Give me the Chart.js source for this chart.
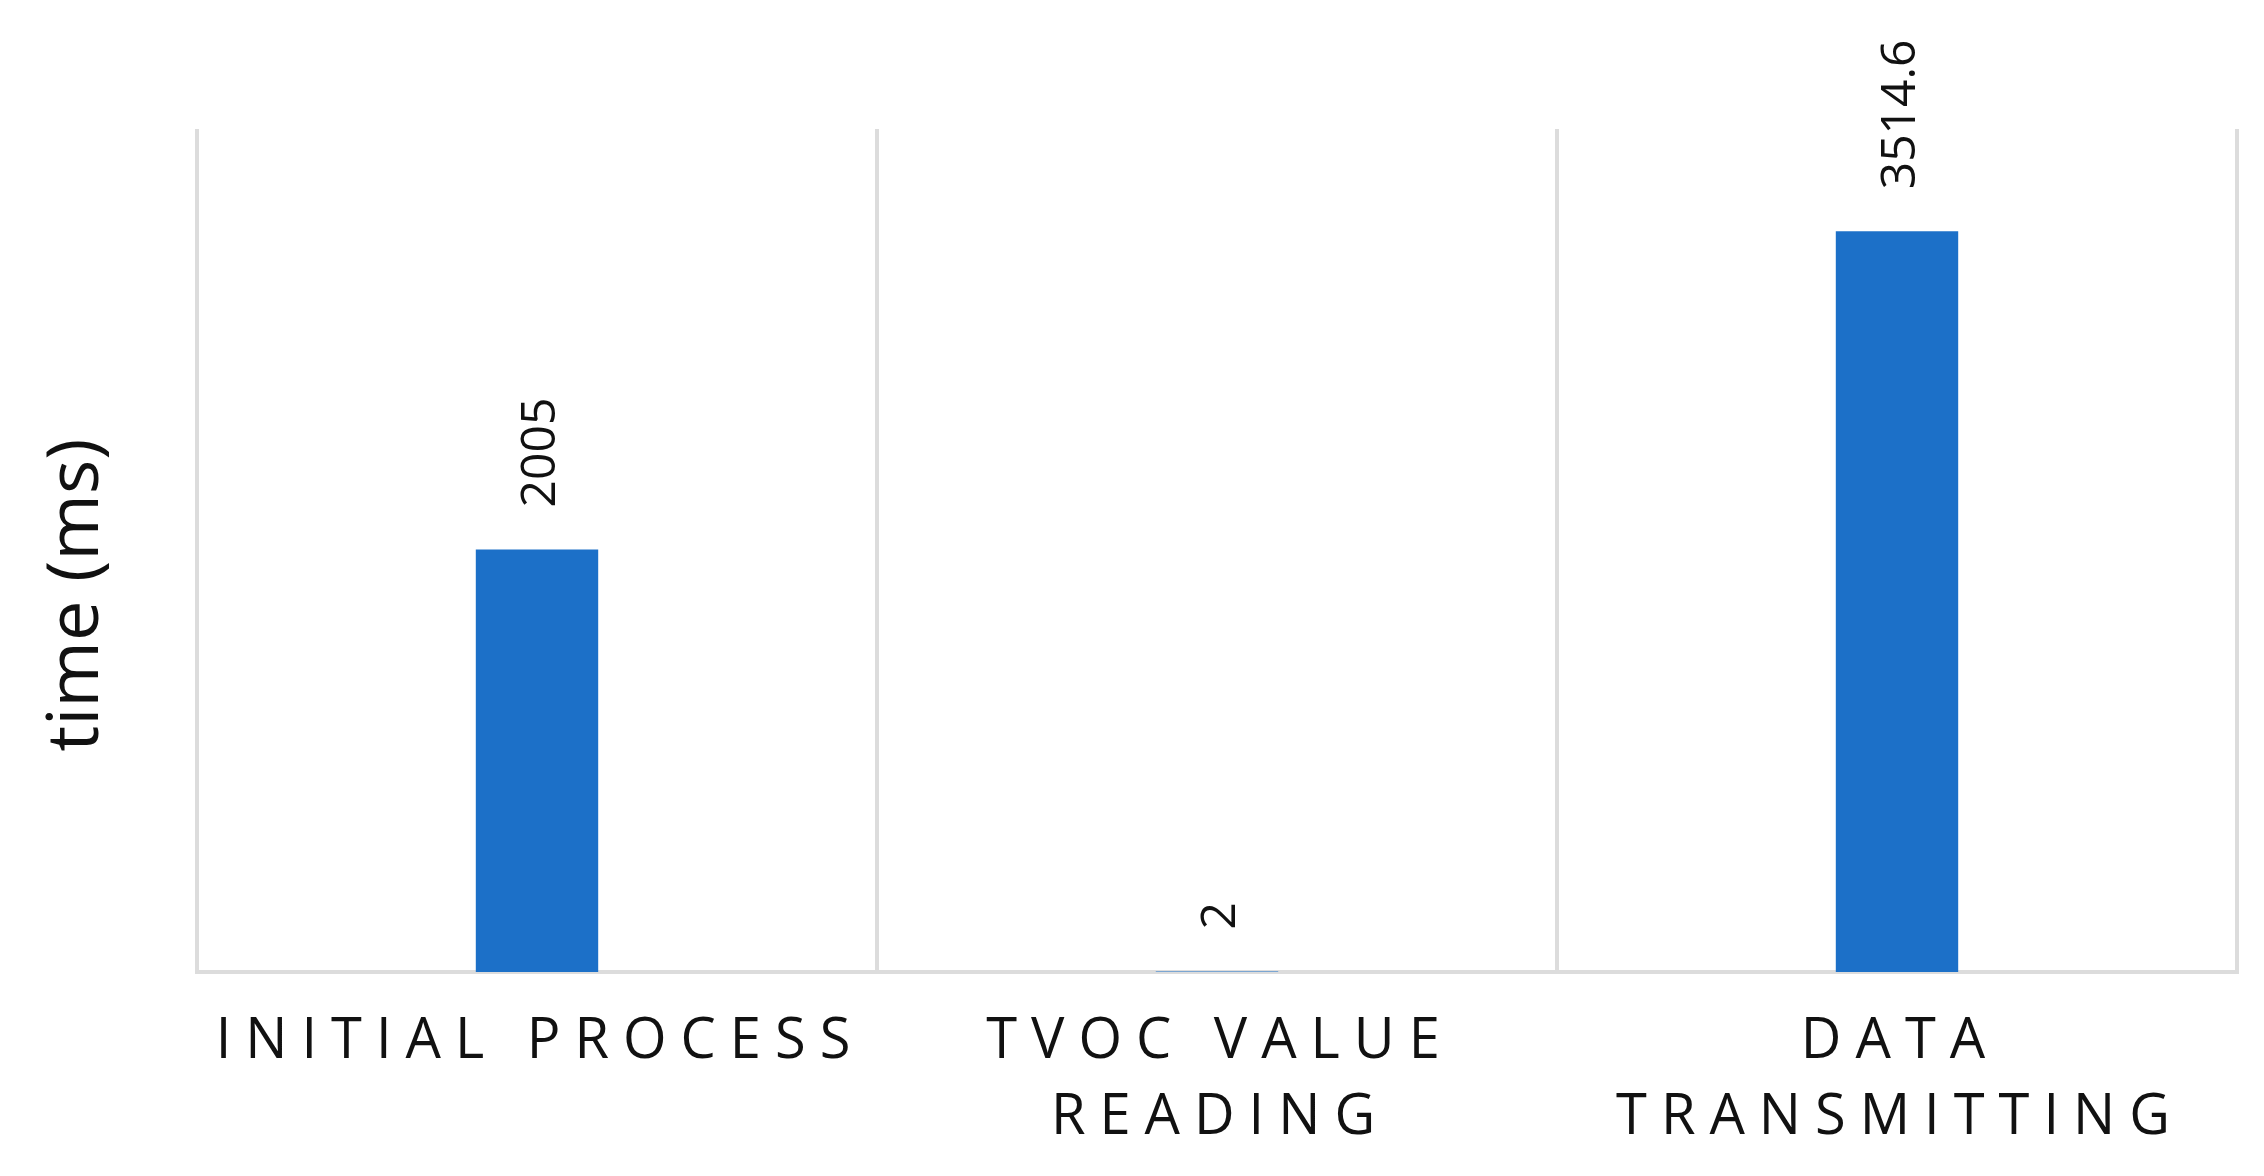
<!DOCTYPE html>
<html>
<head>
<meta charset="utf-8">
<script src="https://cdn.jsdelivr.net/npm/chart.js@4/dist/chart.umd.min.js"></script>
<style>
  html, body { margin: 0; padding: 0; background: #fff; }
  #wrap { width: 2264px; height: 1176px; }
</style>
</head>
<body>
<div id="wrap"><canvas id="my-chart"></canvas></div>
<script>
// categories and values
var categories = ['INITIAL PROCESS', ['TVOC VALUE', 'READING'], ['DATA', 'TRANSMITTING']];
var timeValues = [2005, 2, 3514.6];
var yMin = 0;
var yMax = 4000;
var yTitle = 'time (ms)';

var barColor = '#1c70c8';
var gridColor = '#dcdcdc';
var fontFamily = "'Open Sans', 'DejaVu Sans', sans-serif";

// value labels above bars, turned on their side
var valueLabels = {
    id: 'valueLabels',
    afterDatasetsDraw: function(chart) {
        var ctx = chart.ctx;
        var meta = chart.getDatasetMeta(0);
        ctx.save();
        ctx.fillStyle = '#111';
        ctx.font = '48px ' + fontFamily;
        ctx.textAlign = 'left';
        ctx.textBaseline = 'middle';
        meta.data.forEach(function(bar, i) {
            ctx.save();
            ctx.translate(bar.x + 4, bar.y - 42);
            ctx.rotate(-Math.PI / 2);
            ctx.fillText(String(timeValues[i]), 0, 0);
            ctx.restore();
        });
        ctx.restore();
    }
};

// axis title on the left, sits a bit below the middle like the original
var sideTitle = {
    id: 'sideTitle',
    afterDraw: function(chart) {
        var ctx = chart.ctx;
        ctx.save();
        ctx.fillStyle = '#111';
        ctx.font = '72px ' + fontFamily;
        ctx.textAlign = 'center';
        ctx.textBaseline = 'middle';
        ctx.translate(77, 595);
        ctx.rotate(-Math.PI / 2);
        ctx.fillText(yTitle, 0, 0);
        ctx.restore();
    }
};

// spaced-out capitals on the category axis
var spacedTicks = {
    id: 'spacedTicks',
    afterUpdate: function(chart) {
        var xs = chart.scales.x;
        if (!xs || xs._spaced) return;
        var orig = xs.drawLabels;
        xs.drawLabels = function(area) {
            var c = this.ctx;
            c.save();
            c.letterSpacing = '14px';
            c.translate(3, 0);
            orig.call(this, area);
            c.restore();
        };
        xs._spaced = true;
    }
};

var ctx = document.getElementById('my-chart').getContext('2d');
var chart = new Chart(ctx, {
    type: 'bar',
    data: {
        labels: categories,
        datasets: [{
            label: yTitle,
            data: timeValues,
            backgroundColor: barColor,
            borderWidth: 0,
            barPercentage: 0.18,
            categoryPercentage: 1.0
        }]
    },
    options: {
        responsive: true,
        maintainAspectRatio: false,
        animation: false,
        layout: {
            padding: { top: 129, right: 27, left: 197, bottom: 0 }
        },
        plugins: {
            legend: { display: false },
            tooltip: { enabled: false }
        },
        scales: {
            x: {
                offset: true,
                afterFit: function(scale) { scale.height = 204; },
                grid: {
                    display: true,
                    offset: true,
                    color: gridColor,
                    lineWidth: 4,
                    drawTicks: false
                },
                border: { display: true, color: gridColor, width: 4 },
                ticks: {
                    color: '#111',
                    padding: 33,
                    maxRotation: 0,
                    autoSkip: false,
                    font: { family: fontFamily, size: 56, lineHeight: 1.34 }
                }
            },
            y: {
                display: false,
                min: yMin,
                max: yMax
            }
        }
    },
    plugins: [valueLabels, sideTitle, spacedTicks]
});
chart.draw();
</script>
</body>
</html>
